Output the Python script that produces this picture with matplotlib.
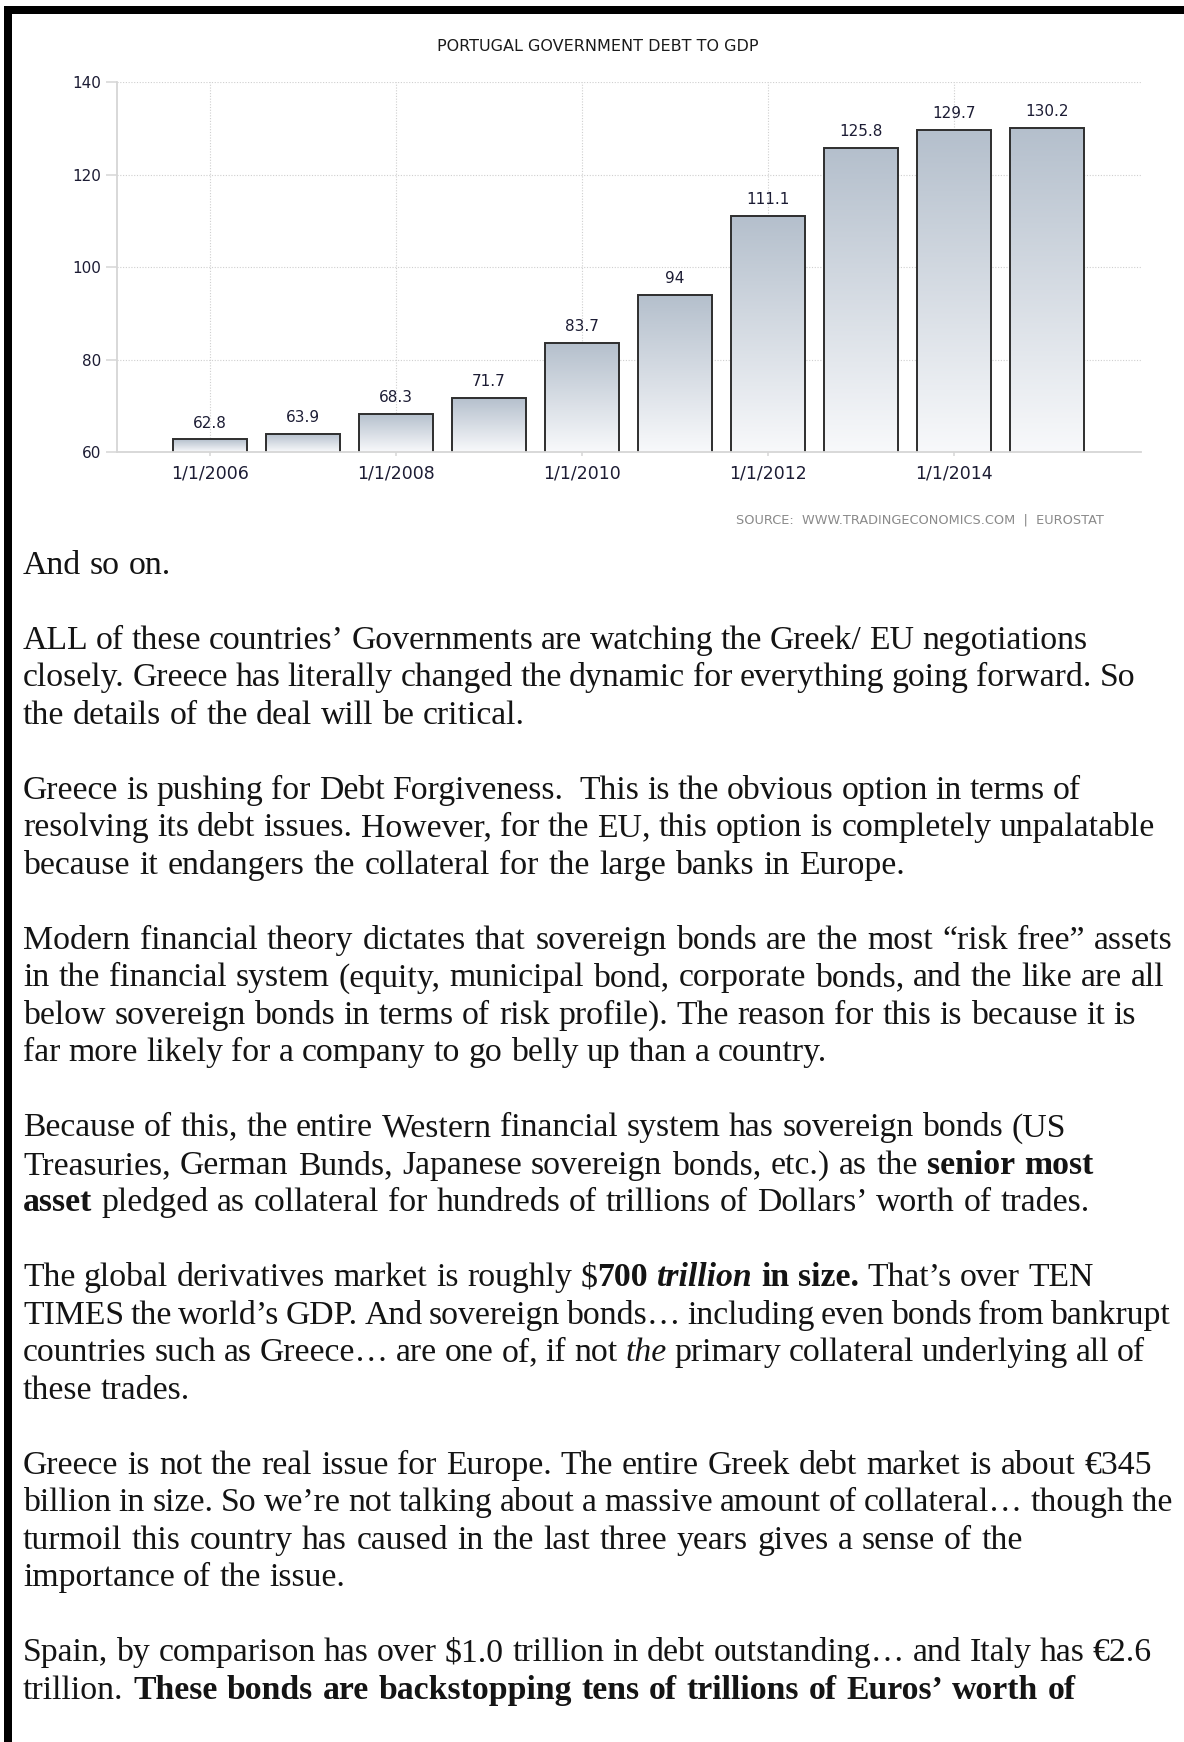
import re
import numpy as np
import matplotlib
matplotlib.use('Agg')
import matplotlib.pyplot as plt
from matplotlib.patches import Rectangle
from matplotlib.colors import LinearSegmentedColormap

# ---------------- data ----------------
years = ['2006', '2007', '2008', '2009', '2010', '2011', '2012', '2013', '2014', '2015']
values = [62.8, 63.9, 68.3, 71.7, 83.7, 94, 111.1, 125.8, 129.7, 130.2]
tick_index = [0, 2, 4, 6, 8]
tick_labels = ['1/1/2006', '1/1/2008', '1/1/2010', '1/1/2012', '1/1/2014']
yticks = [60, 80, 100, 120, 140]
title = 'PORTUGAL GOVERNMENT DEBT TO GDP'
source = 'SOURCE:  WWW.TRADINGECONOMICS.COM  |  EUROSTAT'

# body text: (line index, right end in px of the reference, [(text, style), ...])
body_lines = [
    (-2, 163, [("And so on.", 'r')]),
    (0, 1087, [("ALL of these countries\u2019 Governments are watching the Greek/ EU negotiations", 'r')]),
    (1, 1135, [("closely. Greece has literally changed the dynamic for everything going forward. So", 'r')]),
    (2, 520, [("the details of the deal will be critical.", 'r')]),
    (4, 1081, [("Greece is pushing for Debt Forgiveness.  This is the obvious option in terms of", 'r')]),
    (5, 1155, [("resolving its debt issues. However, for the EU, this option is completely unpalatable", 'r')]),
    (6, 905, [("because it endangers the collateral for the large banks in Europe.", 'r')]),
    (8, 1173, [("Modern financial theory dictates that sovereign bonds are the most \u201crisk free\u201d assets", 'r')]),
    (9, 1165, [("in the financial system (equity, municipal bond, corporate bonds, and the like are all", 'r')]),
    (10, 1136, [("below sovereign bonds in terms of risk profile). The reason for this is because it is", 'r')]),
    (11, 827, [("far more likely for a company to go belly up than a country.", 'r')]),
    (13, 1066, [("Because of this, the entire Western financial system has sovereign bonds (US", 'r')]),
    (14, 1094, [("Treasuries, German Bunds, Japanese sovereign bonds, etc.) as the ", 'r'), ("senior most", 'b')]),
    (15, 1090, [("asset", 'b'), (" pledged as collateral for hundreds of trillions of Dollars\u2019 worth of trades.", 'r')]),
    (17, 1094, [("The global derivatives market is roughly $", 'r'), ("700 ", 'b'), ("trillion", 'bi'),
                (" in size.", 'b'), (" That\u2019s over TEN", 'r')]),
    (18, 1170, [("TIMES the world\u2019s GDP. And sovereign bonds\u2026 including even bonds from bankrupt", 'r')]),
    (19, 1145, [("countries such as Greece\u2026 are one of, if not ", 'r'), ("the", 'i'),
                (" primary collateral underlying all of", 'r')]),
    (20, 197, [("these trades.", 'r')]),
    (22, 1152, [("Greece is not the real issue for Europe. The entire Greek debt market is about \u20ac345", 'r')]),
    (23, 1173, [("billion in size. So we\u2019re not talking about a massive amount of collateral\u2026 though the", 'r')]),
    (24, 1023, [("turmoil this country has caused in the last three years gives a sense of the", 'r')]),
    (25, 348, [("importance of the issue.", 'r')]),
    (27, 1152, [("Spain, by comparison has over $1.0 trillion in debt outstanding\u2026 and Italy has \u20ac2.6", 'r')]),
    (28, 1076, [("trillion. ", 'r'), ("These bonds are backstopping tens of trillions of Euros\u2019 worth of", 'b')]),
]

# ---------------- figure ----------------
W, H = 1184, 1742
fig = plt.figure(figsize=(W / 100, H / 100), dpi=100)
fig.patch.set_facecolor('white')


def fx(px):
    return px / W


def fy(py):
    return 1 - py / H


# black page borders
fig.add_artist(Rectangle((fx(4), 0), 8 / W, fy(6), transform=fig.transFigure,
                         facecolor='black', edgecolor='none'))
fig.add_artist(Rectangle((fx(4), fy(14)), 1 - fx(4), 8 / H, transform=fig.transFigure,
                         facecolor='black', edgecolor='none'))

# ---------------- chart ----------------
ax_l, ax_r, ax_t, ax_b = 116.7, 1140.7, 82.5, 452.3
ax = fig.add_axes([fx(ax_l), fy(ax_b), (ax_r - ax_l) / W, (ax_b - ax_t) / H])
x = np.arange(len(values))
bars = ax.bar(x, values, width=0.79, facecolor='none', edgecolor='#2e2e2e',
              linewidth=1.4, zorder=4)

cmap = LinearSegmentedColormap.from_list('g', ['#f8f9fb', '#b4bfcc'])
grad = np.linspace(0, 1, 256).reshape(-1, 1)
for b, v in zip(bars, values):
    im = ax.imshow(grad, extent=(b.get_x(), b.get_x() + b.get_width(), yticks[0], v),
                   origin='lower', aspect='auto', cmap=cmap, zorder=3, interpolation='bilinear')
    im.set_clip_path(b)
    ax.annotate(f'{v:g}', (b.get_x() + b.get_width() / 2, v), xytext=(0, 8.5),
                textcoords='offset points', ha='center', va='baseline',
                fontsize=11, color='#1c1c34')

ax.set_xlim(-1.006, len(values) - 1 + 1.01)
ax.set_ylim(yticks[0], yticks[-1])
ax.set_yticks(yticks)
ax.set_xticks(tick_index)
ax.set_xticklabels(tick_labels)
ax.set_axisbelow(True)
ax.grid(True, linestyle=(0, (1, 1.5)), color='#cfcfcf', linewidth=0.8, zorder=0)
for s in ['top', 'right']:
    ax.spines[s].set_visible(False)
for s in ['left', 'bottom']:
    ax.spines[s].set_color('#d6d6d6')
    ax.spines[s].set_linewidth(1.3)
    ax.spines[s].set_zorder(5)
ax.tick_params(axis='y', length=8, width=1.1, color='#d6d6d6', pad=3,
               labelsize=11, labelcolor='#1c1c34')
ax.tick_params(axis='x', length=3, width=1.1, color='#d6d6d6', pad=6,
               labelsize=12.5, labelcolor='#1c1c34')

fig.text(fx(597.6), fy(51), title, ha='center', va='baseline', fontsize=11.5, color='#1a1a1a')
fig.text(fx(1104), fy(523), source, ha='right', va='baseline', fontsize=9.3, color='#8a8a8a')

# ---------------- body text ----------------
FONT = 'Liberation Serif'
renderer = fig.canvas.get_renderer()
_cache = {}


def font_kw(style, size):
    return dict(fontfamily=FONT, fontsize=size,
                fontweight='bold' if 'b' in style else 'normal',
                fontstyle='italic' if 'i' in style else 'normal')


def seg_width(s, style, size):
    key = (s, style, size)
    if key in _cache:
        return _cache[key]
    t = fig.text(0, 0, '|' + s + '|', **font_kw(style, size))
    w1 = t.get_window_extent(renderer).width
    t.set_text('||')
    w0 = t.get_window_extent(renderer).width
    t.remove()
    _cache[key] = w1 - w0
    return w1 - w0


def tokens(segs):
    out = []
    for text, style in segs:
        for tok in re.findall(r' |[^ ]+', text):
            out.append((tok, style))
    return out


left_px = 23
# global size: fit the longest lines on average
ratios = []
for k, right, segs in body_lines:
    if right - left_px > 900:
        nat = sum(seg_width(t, s, 20) for t, s in tokens(segs))
        ratios.append((right - left_px) / nat)
size = 20 * float(np.median(ratios))

base0, pitch = 574.0, 37.49
for k, right, segs in body_lines:
    y = base0 + (k + 2) * pitch
    toks = tokens(segs)
    nat = sum(seg_width(t, s, size) for t, s in toks)
    nsp = sum(1 for t, s in toks if t == ' ')
    extra = (right - left_px - nat) / nsp if nsp else 0.0
    if right - left_px < 600:
        extra = 0.0
    extra = max(-3.5, min(3.5, extra))
    xpos = left_px
    for t, s in toks:
        if t == ' ':
            xpos += seg_width(' ', s, size) + extra
        else:
            fig.text(fx(xpos), fy(y), t, ha='left', va='baseline',
                     color='#141414', **font_kw(s, size))
            xpos += seg_width(t, s, size)

fig.savefig('out.png', dpi=100, facecolor='white')
